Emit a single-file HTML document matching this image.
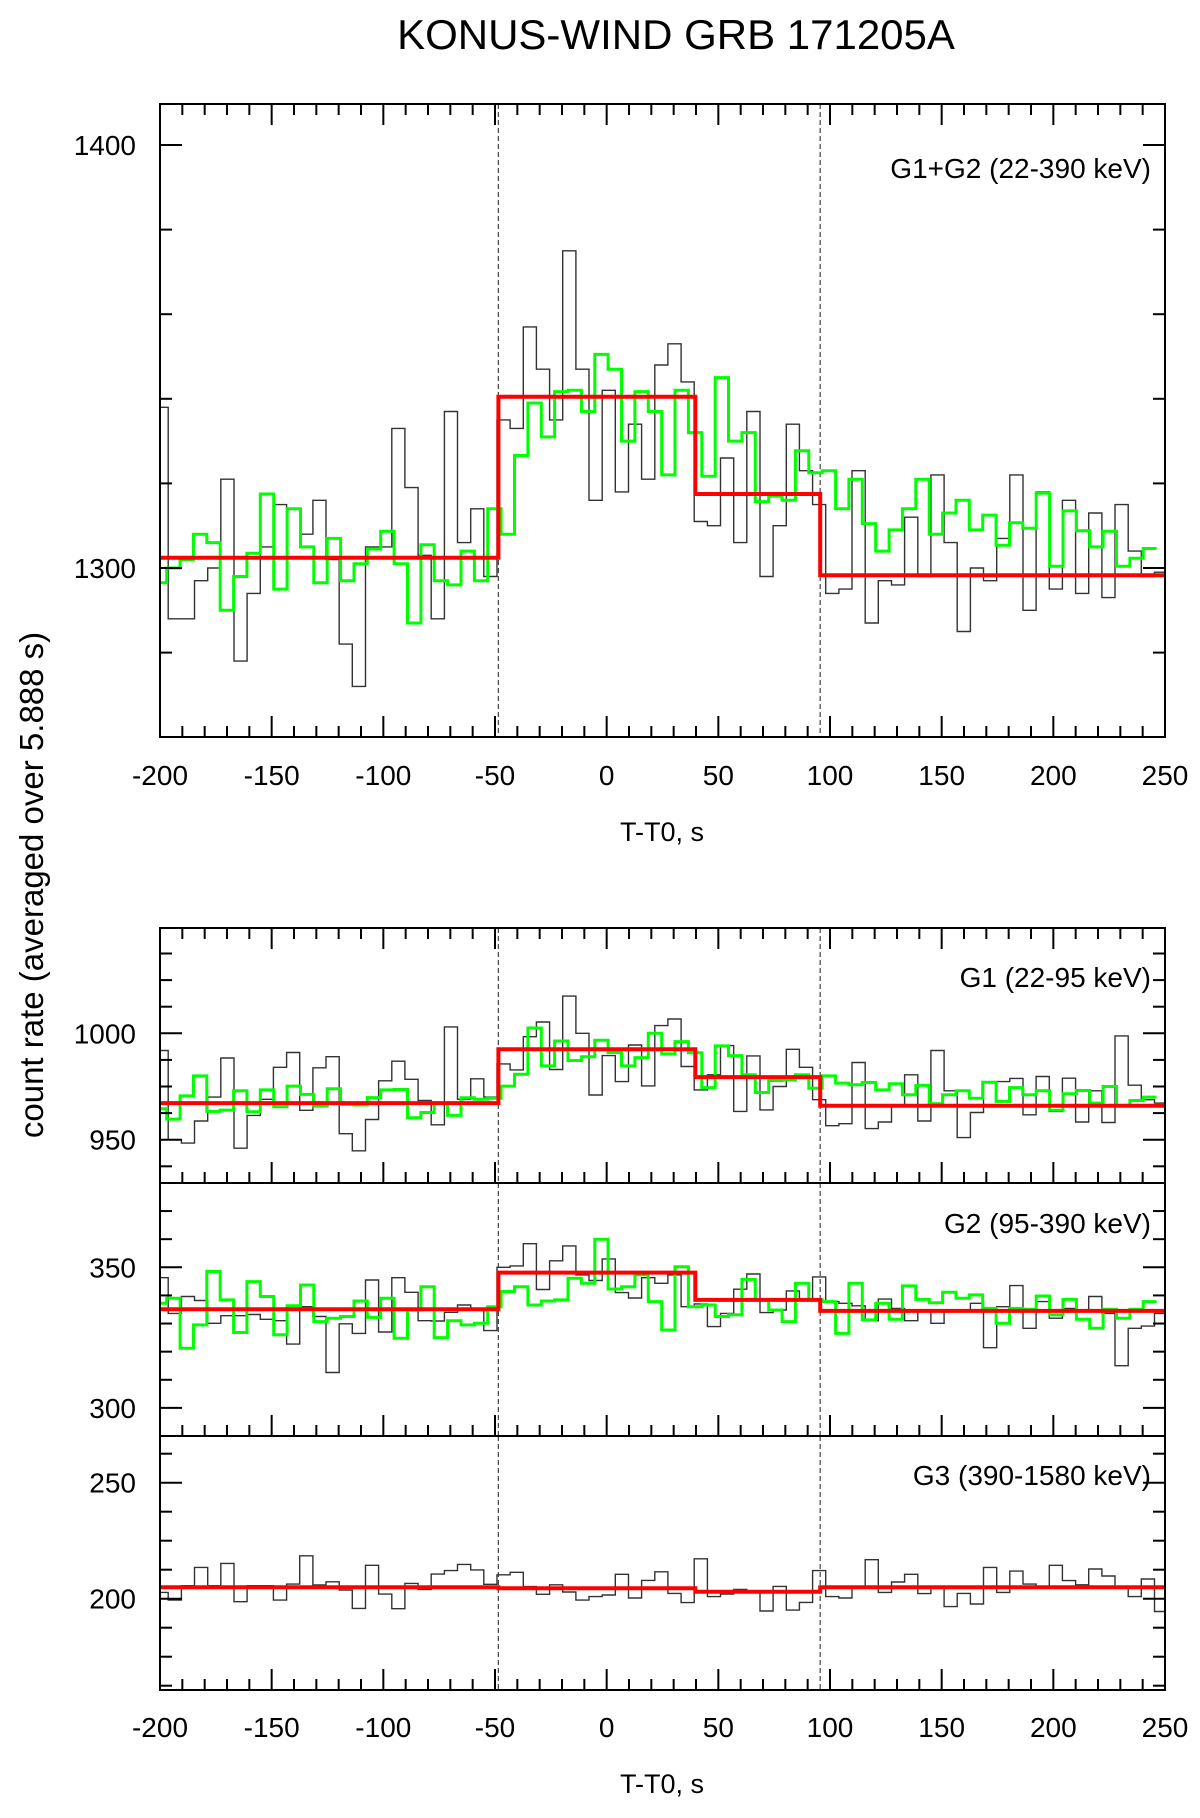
<!DOCTYPE html>
<html><head><meta charset="utf-8"><style>
html,body{margin:0;padding:0;background:#fff;}
svg{display:block;font-family:"Liberation Sans",Arial,sans-serif;}
</style></head><body>
<svg id="chart" width="1200" height="1818" viewBox="0 0 1200 1818" xmlns="http://www.w3.org/2000/svg">
<rect width="1200" height="1818" fill="#fff"/>
<text x="676" y="49" font-size="42" text-anchor="middle">KONUS-WIND GRB 171205A</text>
<text x="0" y="0" font-size="33" text-anchor="middle" transform="translate(43,885) rotate(-90)">count rate (averaged over 5.888 s)</text>
<text x="662" y="841" font-size="27" text-anchor="middle">T-T0, s</text>
<text x="662" y="1793" font-size="27" text-anchor="middle">T-T0, s</text>
<g id="layer"></g>
</svg>
<script>
// ---------- data ----------
const binWidth = 5.888;
const blackStart = -202.2;
const greenStart = -203.0;
const greenWidth = 5.99;
const xTicks = [-200,-150,-100,-50,0,50,100,150,200,250];
const dividers = [-48.5, 95.6];
const modelEdges = [-200, -48.5, 39.7, 95.6, 250];

const sumBlack = [1338,1288,1288,1297,1300,1321,1278,1294,1305,1315,1314,1308,1316,1302,1282,1272,1305,1305,1333,1319,1303,1288,1337,1306,1314,1298,1335,1333,1357,1347,1335,1375,1347,1316,1342,1318,1334,1321,1348,
1353,1344,1311,1310,1326,1306,1337,1298,1310,1334,1323,1315,1294,1295,1323,1287,1297,1296,1312,1298,1322,1306,1285,1300,1297,1307,1322,1290,1318,1295,1316,1294,1313,1293,1315,1304,1298,1299];
const sumGreen = [1296.5,1300,1302,1308,1306,1290,1298,1303.5,1317.5,1295,1314,1305,1296.5,1307,1297,1301,1304.5,1308.7,1301,1287,1305.5,1297,1296,1304,1297,1314,1308,1326.6,1339,1331,1341.7,1342,1337,1350.5,1347,1330,1341.7,1337,1322,
1342,1332,1321.7,1345,1330,1332,1315.7,1317,1316,1327.7,1322.5,1323,1314,1321,1310.5,1304,1309,1314,1321,1308,1313,1316,1309,1312.5,1305.4,1310.7,1309.4,1317.7,1300.4,1313.5,1308.8,1305,1308.7,1300.4,1302.3,1304.6];
const sumModel = [1302.4,1340.5,1317.5,1298.3];

const g1Black = [991.9,950,948.4,958.8,970,988.4,946,961.4,969,984,991,963.8,983.8,989,952.8,944.8,959.5,977.7,986.9,978.4,968.4,957,1003,969,978.6,970,985.6,982.8,998.4,1005.3,983,1017.5,1000,971,989.5,977.3,994.5,975.3,1003.6,
1006.7,984.4,973.4,980.5,994.2,963.3,989.4,964,975,992.5,984,968.8,956.6,957.5,986.3,955.2,958.3,965.6,980.5,958.8,991.9,973,951,962.8,976.9,977.3,978.8,961.7,979.7,963.3,978.9,958.3,973,958.1,998.8,975.6,968.8,967.2];
const g1Green = [964.5,959.7,970.6,980,963.3,963.9,973,963.1,973.4,965.5,975.2,971.3,965.8,973.9,966.7,966.3,969.8,973.4,973.6,960.3,962.8,967.2,961.4,969.7,969,969.5,975.2,980.8,1002.5,984.7,996.4,987.2,989,996.7,991,984.7,988.6,1000,990.3,
996.1,990.9,974.5,994.1,989.5,980.5,972.2,977.8,978.1,980.5,974.2,980,976.6,975.8,976.9,973.4,976.3,971.1,975.5,966.9,971.1,973,969.5,977,968,974.5,971.1,973,963.8,971.6,973.1,967.2,975,966.1,968.4,970];
const g1Model = [967.2,992.5,979.4,966];

const g2Black = [346.3,333.6,339.6,338.2,330.1,332.8,332.8,333.2,331.5,331,322.7,336,332.5,312.6,329.9,326.5,345.5,327,346.3,341.1,331,330.9,334,336.6,334.8,327.5,350,350.5,358.4,342.1,352.3,357.6,347.3,345.3,353,341,339.1,346.3,344.3,
347.3,336,337,328.9,333.6,342.2,347.6,333.9,334.8,341.6,338.4,346.6,337.8,337.2,336.3,331,338.7,335.4,331,334.2,330.1,334.8,334.2,337.2,321.4,336,343.5,328.3,337.8,331.9,335.4,334.8,339.6,333.6,315,328.3,329.1,333.6];
const g2Green = [337.2,339,321.2,329.5,348.5,338.4,326.8,344.9,339.6,326,336.3,343.7,330.7,331.9,332.5,338,332.2,339,324.8,334.8,343.1,325,331,329.5,330.1,336,341.4,343.1,336.6,338,338.4,346.1,344.3,360,342.3,343.1,347.3,337.8,327.7,
350.2,336,336.6,332.5,333.1,345.7,338.4,334.8,330.7,344.3,338.4,337.8,326.5,344.3,331.3,337.2,331.5,343.4,338.6,337.4,341.1,339,340.2,335.4,330.1,335.4,335.1,339.8,333.1,338.6,331.5,328.3,335.1,331.9,335.1,337.8];
const g2Model = [335.1,348.1,338.4,334.5];

const g3Black = [202.7,199.4,205.6,213.5,205.6,215.2,198.7,205.6,205.6,199.4,206.3,218.5,205.9,207.3,203.7,195.8,214.4,202,195.7,206.6,204,210.6,212.1,214.8,212.4,206.2,210.3,211.4,205.2,201.9,206,202.9,199.4,200.9,201.6,210.5,200.3,207.9,211.6,
202.3,198.3,217.2,200.9,202,204,203.4,194.7,205.3,195.1,198.4,212.1,200.9,200.3,205.2,216.8,202.7,207.2,210.5,202.2,204.5,196.6,202.3,197.7,213.5,202.7,211.9,206.3,205.2,214.4,207.8,206,212.8,209.8,205.2,200.9,208.5,194.5];
const g3Model = [204.9,204.5,203,204.9];

const sumYTicks = [1280,1300,1320,1340,1360,1380,1400];
const sumYLabels = [1300,1400];
const g1YTicks = [937.5,950,962.5,975,987.5,1000,1012.5,1025,1037.5];
const g1YLabels = [950,1000];
const g2YTicks = [300,310,320,330,340,350,360,370];
const g2YLabels = [300,350];
const g3YTicks = [162.5,175,187.5,200,212.5,225,237.5,250,262.5];
const g3YLabels = [200,250];

// ---------- layout ----------
const NS = 'http://www.w3.org/2000/svg';
const layer = document.getElementById('layer');
const XL = 160, XR = 1165;
function x(t){ return XL + (t + 200) * (XR - XL) / 450; }
function makeY(v1, p1, v2, p2){ return v => p1 + (v - v1) * (p2 - p1) / (v2 - v1); }
function el(tag, attrs, parent){
  const e = document.createElementNS(NS, tag);
  for (const k in attrs) e.setAttribute(k, attrs[k]);
  (parent || layer).appendChild(e);
  return e;
}
function stepPath(vals, start, w, y){
  let d = '';
  for (let i = 0; i < vals.length; i++){
    let a = Math.max(start + i*w, -200), b = Math.min(start + (i+1)*w, 250);
    if (b <= a) continue;
    const yy = y(vals[i]).toFixed(1);
    d += (d ? 'L' : 'M') + x(a).toFixed(1) + ',' + yy + 'L' + x(b).toFixed(1) + ',' + yy;
  }
  return d;
}
function modelPath(vals, y){
  let d = '';
  for (let i = 0; i < vals.length; i++){
    const yy = y(vals[i]).toFixed(1);
    d += (d ? 'L' : 'M') + x(modelEdges[i]).toFixed(1) + ',' + yy + 'L' + x(modelEdges[i+1]).toFixed(1) + ',' + yy;
  }
  return d;
}

const panels = [
  {name:'sum', top:104, bot:737, y:makeY(1300,568,1400,145), yt:sumYTicks, yl:sumYLabels, major:[1300,1400],
   black:sumBlack, green:sumGreen, model:sumModel, label:'G1+G2 (22-390 keV)', ly:178, topTicks:true},
  {name:'g1', top:928, bot:1183, y:makeY(950,1139.7,1000,1033.3), yt:g1YTicks, yl:g1YLabels, major:[950,1000],
   black:g1Black, green:g1Green, model:g1Model, label:'G1 (22-95 keV)', ly:987, topTicks:true},
  {name:'g2', top:1183, bot:1436, y:makeY(300,1407.9,350,1267.3), yt:g2YTicks, yl:g2YLabels, major:[300,350],
   black:g2Black, green:g2Green, model:g2Model, label:'G2 (95-390 keV)', ly:1233, topTicks:false},
  {name:'g3', top:1436, bot:1690, y:makeY(200,1598.7,250,1482.7), yt:g3YTicks, yl:g3YLabels, major:[200,250],
   black:g3Black, green:null, model:g3Model, label:'G3 (390-1580 keV)', ly:1485, topTicks:false},
];

panels.forEach(p => {
  const g = el('g', {});
  
  
  const clipId = 'clip-' + p.name;
  const cp = el('clipPath', {id: clipId}, g);
  el('rect', {x: XL, y: p.top, width: XR - XL, height: p.bot - p.top}, cp);
  dividers.forEach(t => {
    const l = el('line', {x1:x(t), x2:x(t), y1:p.top, y2:p.bot, stroke:'#444', 'stroke-width':1.2, 'stroke-dasharray':'5,3'}, g);
    
    
  });
  const dg = el('g', {'clip-path': 'url(#' + clipId + ')'}, g);
  const b = el('path', {d: stepPath(p.black, blackStart, binWidth, p.y), fill:'none', stroke:'#333', 'stroke-width':1.4}, dg);
  
  
  if (p.green){
    const gr = el('path', {d: stepPath(p.green, greenStart, greenWidth, p.y), fill:'none', stroke:'#00ff00', 'stroke-width':3}, dg);
    
    
  }
  const m = el('path', {d: modelPath(p.model, p.y), fill:'none', stroke:'#ff0000', 'stroke-width':4}, dg);
  
  
  const fr = el('rect', {x:XL, y:p.top, width:XR-XL, height:p.bot-p.top, fill:'none', stroke:'#000', 'stroke-width':2}, g);
  
  
  for (let t = -200; t <= 250; t += 10){
    const len = (t % 50 === 0) ? 21 : 11;
    el('line', {x1:x(t), x2:x(t), y1:p.bot, y2:p.bot-len, stroke:'#000', 'stroke-width':2}, g);
    if (p.topTicks) el('line', {x1:x(t), x2:x(t), y1:p.top, y2:p.top+len, stroke:'#000', 'stroke-width':2}, g);
  }
  p.yt.forEach(v => {
    const yy = p.y(v);
    if (yy < p.top - 0.5 || yy > p.bot + 0.5) return;
    const len = p.major.indexOf(v) >= 0 ? 22 : 12;
    el('line', {x1:XL, x2:XL+len, y1:yy, y2:yy, stroke:'#000', 'stroke-width':2}, g);
    el('line', {x1:XR, x2:XR-len, y1:yy, y2:yy, stroke:'#000', 'stroke-width':2}, g);
  });
  p.yl.forEach(v => {
    const t = el('text', {x:136, y:p.y(v)+10, 'font-size':28, 'text-anchor':'end'}, g);
    t.textContent = String(v);
    
    
  });
  const lb = el('text', {x:1151, y:p.ly, 'font-size':28, 'text-anchor':'end'}, g);
  lb.textContent = p.label;
  
  
});

[785, 1737].forEach(yy => {
  xTicks.forEach(t => {
    const tl = el('text', {x:x(t), y:yy, 'font-size':28, 'text-anchor':'middle'});
    tl.textContent = String(t);
    
    
  });
});
</script>
</body></html>
